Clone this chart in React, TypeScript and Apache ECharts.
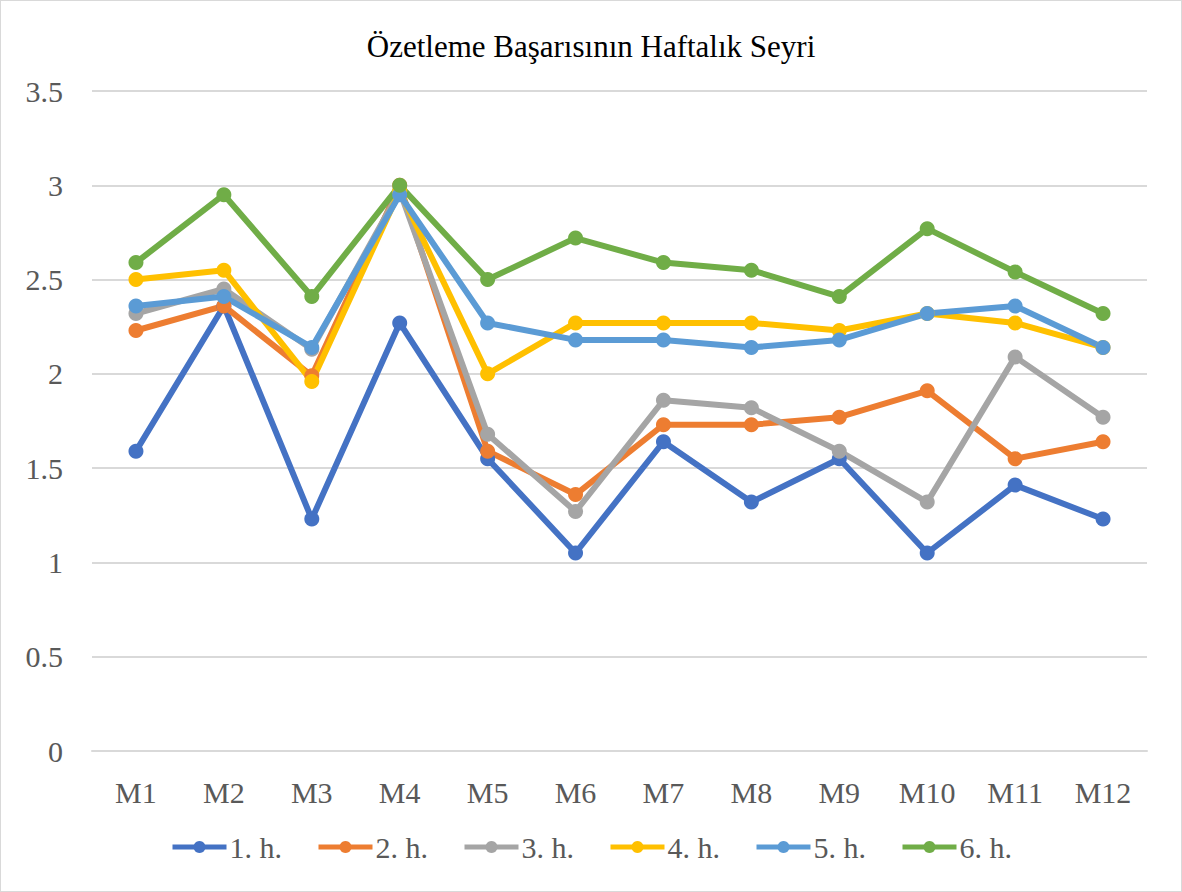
import React, { useEffect, useRef } from "react";
import * as echarts from "echarts";

const categories = ["M1", "M2", "M3", "M4", "M5", "M6", "M7", "M8", "M9", "M10", "M11", "M12"];
const seriesNames = ["1. h.", "2. h.", "3. h.", "4. h.", "5. h.", "6. h."];
const h1 = [1.59, 2.36, 1.23, 2.27, 1.55, 1.05, 1.64, 1.32, 1.55, 1.05, 1.41, 1.23];
const h2 = [2.23, 2.36, 1.99, 3.0, 1.59, 1.36, 1.73, 1.73, 1.77, 1.91, 1.55, 1.64];
const h3 = [2.32, 2.45, 2.13, 2.97, 1.68, 1.27, 1.86, 1.82, 1.59, 1.32, 2.09, 1.77];
const h4 = [2.5, 2.55, 1.96, 2.97, 2.0, 2.27, 2.27, 2.27, 2.23, 2.32, 2.27, 2.14];
const h5 = [2.36, 2.41, 2.14, 2.95, 2.27, 2.18, 2.18, 2.14, 2.18, 2.32, 2.36, 2.14];
const h6 = [2.59, 2.95, 2.41, 3.0, 2.5, 2.72, 2.59, 2.55, 2.41, 2.77, 2.54, 2.32];
const colors = ["#4472C4", "#ED7D31", "#A5A5A5", "#FFC000", "#5B9BD5", "#70AD47"];

export default function App() {
  const ref = useRef<HTMLDivElement>(null);
  useEffect(() => {
    if (!ref.current) return;
    const chart = echarts.init(ref.current, null, { renderer: "svg" });
    const data = [h1, h2, h3, h4, h5, h6];
    const font = "'Liberation Serif', 'Times New Roman', serif";
    chart.setOption({
      animation: false,
      color: colors,
      title: {
        text: "Özetleme Başarısının Haftalık Seyri",
        left: "center",
        top: 25,
        textStyle: { fontFamily: font, fontSize: 31, fontWeight: "normal", color: "#000" },
      },
      legend: {
        bottom: 24,
        left: "center",
        itemWidth: 54,
        itemHeight: 15,
        itemGap: 34,
        lineStyle: { width: 5 },
        textStyle: { fontFamily: font, fontSize: 30, color: "#595959", padding: [0, 0, 0, -2] },
        data: seriesNames,
      },
      grid: { left: 91, right: 34, top: 90, bottom: 140, containLabel: false },
      xAxis: {
        type: "category",
        data: categories,
        boundaryGap: true,
        axisLine: { show: true, lineStyle: { color: "#D9D9D9", width: 2 } },
        axisTick: { show: false },
        axisLabel: { fontFamily: font, fontSize: 30, color: "#595959", margin: 26 },
      },
      yAxis: {
        type: "value",
        min: 0,
        max: 3.5,
        interval: 0.5,
        axisLine: { show: false },
        axisTick: { show: false },
        splitLine: { lineStyle: { color: "#D9D9D9", width: 2 } },
        axisLabel: { fontFamily: font, fontSize: 30, color: "#595959", margin: 29 },
      },
      series: data.map((d, i) => ({
        name: seriesNames[i],
        type: "line",
        data: d,
        symbol: "circle",
        symbolSize: 15,
        lineStyle: { width: 6, color: colors[i] },
        itemStyle: { color: colors[i] },
      })),
    });
    return () => chart.dispose();
  }, []);
  return (
    <div
      ref={ref}
      style={{
        position: "absolute",
        left: 0,
        top: 0,
        width: 1182,
        height: 892,
        border: "1px solid #D9D9D9",
        boxSizing: "border-box",
        background: "#fff",
      }}
    />
  );
}
